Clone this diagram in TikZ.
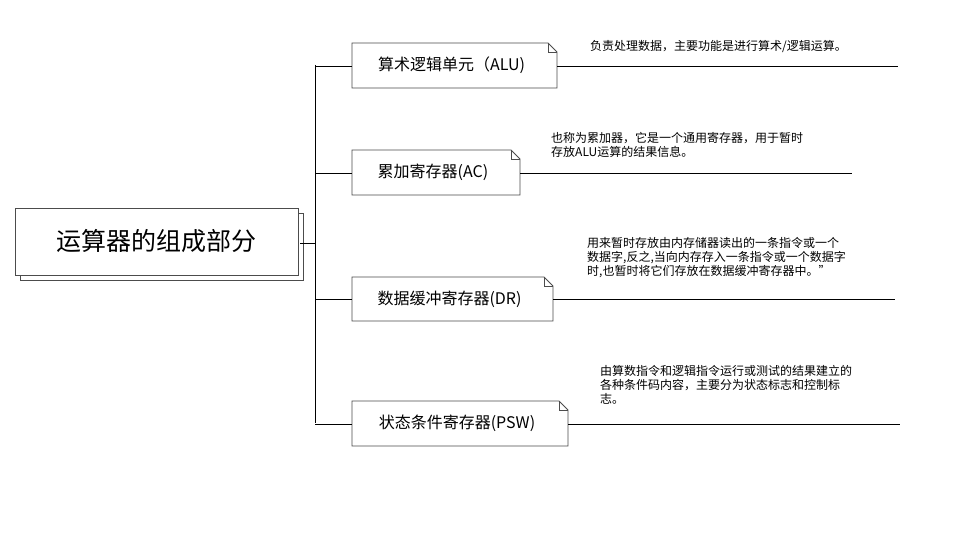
\documentclass[tikz,border=0pt]{standalone}
\usepackage{fontspec}
\setmainfont{Noto Sans CJK SC}
\begin{document}
\begin{tikzpicture}[x=1pt,y=-1pt,
  br/.style={draw=black!70,line width=0.8pt},
  ln/.style={draw=black,line width=0.8pt},
  note/.style={font=\fontsize{12}{14}\selectfont,anchor=north west,align=left,inner sep=0pt}]
\useasboundingbox[fill=white] (0,0) rectangle (968,553);
% main node with shadow
\draw[br,fill=white] (20,213) rectangle (303,280);
\draw[br,fill=white] (15,208) rectangle (298,275);
\node[font=\fontsize{25}{28}\selectfont] (main) at (156,241) {运算器的组成部分};
\coordinate (m) at (300,243);
\coordinate (t1) at (315,65);
\coordinate (t4) at (315,423);
\draw[ln] (m) -- (315,243);
\draw[ln] (t1) -- (t4);
% branches: x1,y1,x2,y2,text,line end, name
\foreach \xa/\ya/\xb/\yb/\t/\le/\n in {352/43/557/88/{算术逻辑单元（ALU)}/898/a,352/150/520/195/{累加寄存器(AC)}/852/b,352/277/553/321/{数据缓冲寄存器(DR)}/895/c,352/401/568/446/{状态条件寄存器(PSW)}/900/d}{
  \draw[br,fill=white] (\xa,\ya) -- (\xb-9,\ya) -- (\xb,\ya+9) -- (\xb,\yb) -- (\xa,\yb) -- cycle;
  \draw[br] (\xb-9,\ya) -- (\xb-9,\ya+9) -- (\xb,\ya+9);
  \node[font=\fontsize{16}{18}\selectfont] (\n) at ({(\xa+\xb)/2-3},{(\ya+\yb)/2}) {\t};
  \draw[ln] (315,{(\ya+\yb)/2+0.5}) -- (\xa,{(\ya+\yb)/2+0.5});
  \draw[ln] (\xb,{(\ya+\yb)/2+0.5}) -- (\le,{(\ya+\yb)/2+0.5});
}
\node[note] (na) at (590,40) {负责处理数据，主要功能是进行算术/逻辑运算。};
\node[note] (nb) at (551,132) {也称为累加器，它是一个通用寄存器，用于暂时\\存放ALU运算的结果信息。};
\node[note] (nc) at (587,237) {用来暂时存放由内存储器读出的一条指令或一个\\数据字,反之,当向内存存入一条指令或一个数据字\\时,也暂时将它们存放在数据缓冲寄存器中。"};
\node[note] (nd) at (600,365) {由算数指令和逻辑指令运行或测试的结果建立的\\各种条件码内容，主要分为状态标志和控制标\\志。};
\end{tikzpicture}
\end{document}
